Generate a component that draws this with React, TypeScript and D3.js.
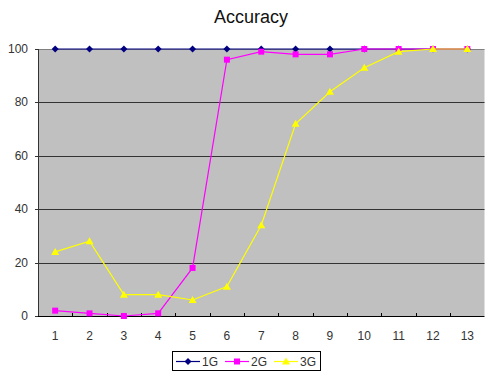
import React from "react";
import * as d3 from "d3";

const categories = ["1", "2", "3", "4", "5", "6", "7", "8", "9", "10", "11", "12", "13"];
const s1G = [100, 100, 100, 100, 100, 100, 100, 100, 100, 100, 100, 100, 100];
const s2G = [2, 1, 0, 1, 18, 96, 99, 98, 98, 100, 100, 100, 100];
const s3G = [24, 28, 8, 8, 6, 11, 34, 72, 84, 93, 99, 100, 100];
const yTicks = [0, 20, 40, 60, 80, 100];

const W = 485, H = 372;
const left = 38, right = 484.5, top = 49, bottom = 316;

export default function App() {
  const x = d3.scaleBand<string>().domain(categories).range([left, right]);
  const y = d3.scaleLinear().domain([0, 100]).range([bottom, top]);
  const cx = (c: string) => (x(c) as number) + x.bandwidth() / 2;
  const line = (vals: number[]) =>
    d3.line<number>().x((_, i) => cx(categories[i])).y((v) => y(v))(vals) as string;
  const font = "'Liberation Sans', Arial, sans-serif";

  const diamond = (px: number, py: number, c: string, k: string) => (
    <path key={k} d={`M${px},${py - 3.5}L${px + 3.5},${py}L${px},${py + 3.5}L${px - 3.5},${py}Z`} fill={c} />
  );
  const square = (px: number, py: number, c: string, k: string) => (
    <rect key={k} x={px - 3} y={py - 3} width={6} height={6} fill={c} />
  );
  const tri = (px: number, py: number, c: string, k: string) => (
    <path key={k} d={`M${px},${py - 4}L${px + 4},${py + 3}L${px - 4},${py + 3}Z`} fill={c} />
  );

  const series = [
    { name: "1G", vals: s1G, color: "#000080", marker: diamond },
    { name: "2G", vals: s2G, color: "#ff00ff", marker: square },
    { name: "3G", vals: s3G, color: "#ffff00", marker: tri },
  ];

  const legendX = [176, 225, 274];

  return (
    <svg width={W} height={H} style={{ position: "absolute", left: 0, top: 0, background: "#fff" }}>
      <text x={251} y={23} textAnchor="middle" fontFamily={font} fontSize={18} fill="#111">Accuracy</text>
      <rect x={left} y={top} width={right - left} height={bottom - top} fill="#c0c0c0" />
      {yTicks.filter((t) => t > 0 && t < 100).map((t) => (
        <line key={t} x1={left} x2={right} y1={Math.round(y(t)) + 0.5} y2={Math.round(y(t)) + 0.5} stroke="#333" strokeWidth={1} />
      ))}
      <line x1={left} x2={right} y1={top + 0.5} y2={top + 0.5} stroke="#808080" />
      {yTicks.map((t) => (
        <g key={"yt" + t}>
          <line x1={left - 3} x2={left} y1={Math.round(y(t)) + 0.5} y2={Math.round(y(t)) + 0.5} stroke="#333" />
          <text x={28} y={y(t) + 4} textAnchor="end" fontFamily={font} fontSize={12} fill="#333">{t}</text>
        </g>
      ))}
      <line x1={left + 0.5} x2={left + 0.5} y1={top} y2={bottom} stroke="#333" />
      <line x1={left} x2={right} y1={bottom + 0.5} y2={bottom + 0.5} stroke="#000" />
      {categories.slice(1).map((c) => (
        <line key={"xt" + c} x1={Math.round(x(c) as number) + 0.5} x2={Math.round(x(c) as number) + 0.5} y1={bottom - 3} y2={bottom} stroke="#000" />
      ))}
      {categories.map((c) => (
        <text key={"xl" + c} x={cx(c)} y={340} textAnchor="middle" fontFamily={font} fontSize={12} fill="#333">{c}</text>
      ))}
      {series.map((s) => (
        <g key={s.name}>
          <path d={line(s.vals)} fill="none" stroke={s.color} strokeWidth={1.2} />
          {s.vals.map((v, i) => s.marker(cx(categories[i]), y(v), s.color, s.name + i))}
        </g>
      ))}
      <rect x={172.5} y={351.5} width={148} height={19} fill="#fff" stroke="#000" />
      {series.map((s, i) => (
        <g key={"lg" + s.name}>
          <line x1={legendX[i]} x2={legendX[i] + 24} y1={361.5} y2={361.5} stroke={s.color} strokeWidth={1.2} />
          {s.marker(legendX[i] + 12, 361.5, s.color, "lm" + i)}
          <text x={legendX[i] + 26} y={366} fontFamily={font} fontSize={12} fill="#333">{s.name}</text>
        </g>
      ))}
    </svg>
  );
}
